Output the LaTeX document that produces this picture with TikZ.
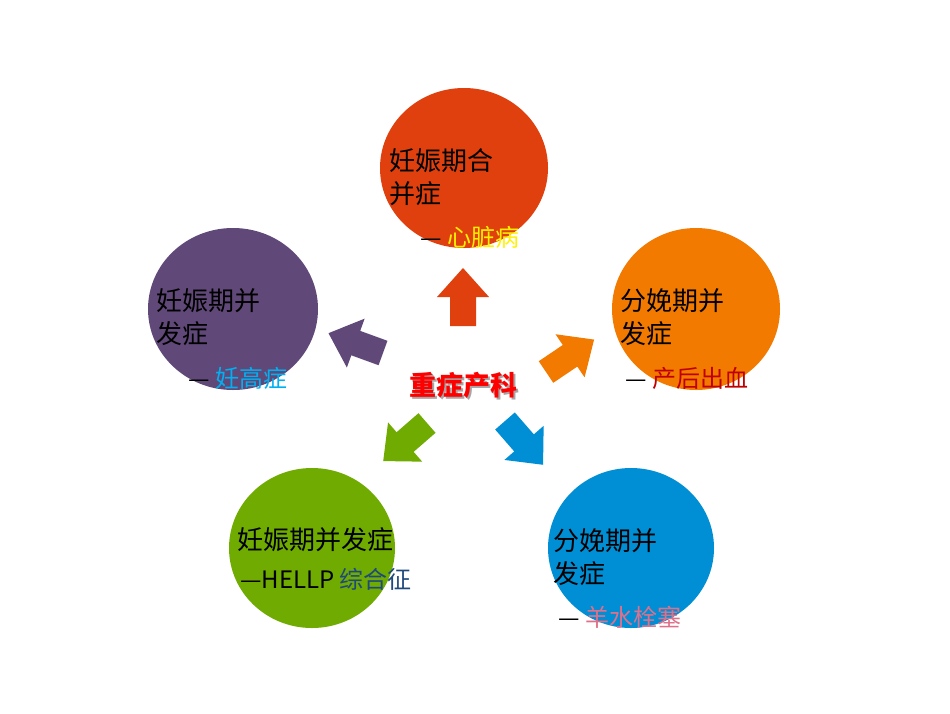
\documentclass[tikz,border=0pt]{standalone}
\usepackage{fontspec}
\newfontfamily\cjk{Noto Sans CJK SC}
\definecolor{cTop}{HTML}{E0400E}
\definecolor{cPur}{HTML}{604878}
\definecolor{cOra}{HTML}{F27A00}
\definecolor{cGre}{HTML}{6FAB00}
\definecolor{cBlu}{HTML}{008ED4}
\tikzset{
 lbl/.style={anchor=west,font=\cjk\fontsize{26}{33}\selectfont,align=left,inner sep=0},
 sub/.style={anchor=west,font=\cjk\fontsize{24}{28}\selectfont,inner sep=0},
 barrow/.pic={\fill[pic actions] (0,-13) -- (29,-13) -- (29,-26) -- (58,0) -- (29,26) -- (29,13) -- (0,13) -- cycle;}
}
\begin{document}
\begin{tikzpicture}[x=1pt,y=-1pt]
\useasboundingbox (0,0) rectangle (950,713);
\fill[white] (0,0) rectangle (950,713);
\fill[cTop] (464,168) ellipse [x radius=84,y radius=80];
\fill[cPur] (233,309) ellipse [x radius=85,y radius=81];
\fill[cOra] (696,309) ellipse [x radius=84,y radius=81];
\fill[cGre] (312,548) ellipse [x radius=83,y radius=80];
\fill[cBlu] (631,548) ellipse [x radius=83,y radius=80];
\node[lbl] (t1) at (389,177) {妊娠期合\\并症};
\node[sub] (t2) at (420,237) {— \textcolor{yellow}{心脏病}};
\node[lbl] (p1) at (156,317) {妊娠期并\\发症};
\node[sub] (p2) at (188,378) {— \textcolor[HTML]{00B0F0}{妊高症}};
\node[lbl] (o1) at (620,317) {分娩期并\\发症};
\node[sub] (o2) at (625,378) {— \textcolor[HTML]{C00000}{产后出血}};
\node[lbl] (g1) at (237,540) {妊娠期并发症};
\node[sub] (g2) at (240,579) {—HELLP \textcolor[HTML]{1F497D}{综合征}};
\node[lbl] (b1) at (553,557) {分娩期并\\发症};
\node[sub] (b2) at (558,617) {— \textcolor[HTML]{E0708A}{羊水栓塞}};
\node[font=\cjk\bfseries\fontsize{27}{30}\selectfont] (c) at (463,386)
 {\rlap{\kern2pt\raisebox{-2pt}{\textcolor{black!35}{重症产科}}}\textcolor{red}{重症产科}};
\pic[fill=cTop,rotate=90] (a1) at (463,326) {barrow};
\pic[fill=cOra,rotate=34] (a2) at (546,372) {barrow};
\pic[fill=cPur,rotate=-200] (a3) at (383,353) {barrow};
\pic[fill=cGre,rotate=-139] (a4) at (427,423) {barrow};
\pic[fill=cBlu,rotate=-49] (a5) at (505,421) {barrow};
\end{tikzpicture}
\end{document}
